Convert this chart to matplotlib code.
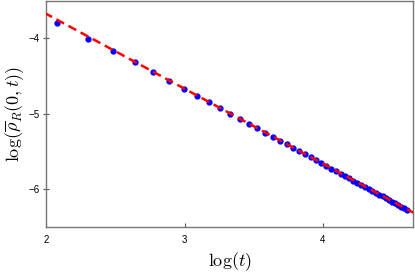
import numpy as np
import matplotlib
matplotlib.use("Agg")
import matplotlib.pyplot as plt

plt.rcParams['mathtext.fontset'] = 'cm'
plt.rcParams['font.family'] = ['Liberation Sans', 'DejaVu Sans']

# log(t) for t = 8, 10, ..., 100
log_t = [2.0794, 2.3026, 2.4849, 2.6391, 2.7726, 2.8904, 2.9957, 3.0910,
         3.1781, 3.2581, 3.3322, 3.4012, 3.4657, 3.5264, 3.5835, 3.6376,
         3.6889, 3.7377, 3.7842, 3.8286, 3.8712, 3.9120, 3.9512, 3.9890,
         4.0254, 4.0604, 4.0943, 4.1271, 4.1589, 4.1897, 4.2195, 4.2485,
         4.2767, 4.3041, 4.3307, 4.3567, 4.3820, 4.4067, 4.4308, 4.4543,
         4.4773, 4.4998, 4.5218, 4.5433, 4.5643, 4.5850, 4.6052]
log_rho = [-3.80, -4.01, -4.17, -4.32, -4.45, -4.565, -4.67, -4.765,
           -4.85, -4.93, -5.005, -5.07, -5.135, -5.195, -5.255, -5.31,
           -5.36, -5.41, -5.455, -5.50, -5.54, -5.58, -5.62, -5.66,
           -5.695, -5.73, -5.765, -5.80, -5.83, -5.86, -5.89, -5.92,
           -5.95, -5.975, -6.00, -6.03, -6.05, -6.075, -6.10, -6.125,
           -6.15, -6.17, -6.19, -6.215, -6.235, -6.255, -6.275]

# linear fit
fit_slope = -0.995
fit_intercept = -1.685

fig = plt.figure(figsize=(4.15, 2.76), dpi=100)
ax = fig.add_axes([0.111, 0.179, 0.884, 0.819])

ax.plot(log_t, log_rho, 'o', color='blue', markersize=3.5, zorder=2)
xf = np.array([1.9, 4.8])
ax.plot(xf, fit_slope * xf + fit_intercept, '--', color='red', lw=1.8,
        dashes=(3.5, 2), zorder=3)

ax.set_xlim(2, 4.65)
ax.set_ylim(-6.5, -3.5)
ax.set_xticks([2, 3, 4])
ax.set_yticks([-6, -5, -4])
ax.tick_params(axis='x', direction='in', length=3, labelsize=7, pad=6,
               color='#555555')
ax.tick_params(axis='y', direction='inout', length=5, labelsize=7, pad=2,
               color='#555555')
for s in ax.spines.values():
    s.set_color('#777777')
    s.set_linewidth(1.0)

ax.set_xlabel(r'$\log(t)$', fontsize=13, labelpad=4)
ax.set_ylabel(r'$\log(\overline{\rho}_R(0,t))$', fontsize=13, labelpad=2)

fig.savefig('out.png', dpi=100)
